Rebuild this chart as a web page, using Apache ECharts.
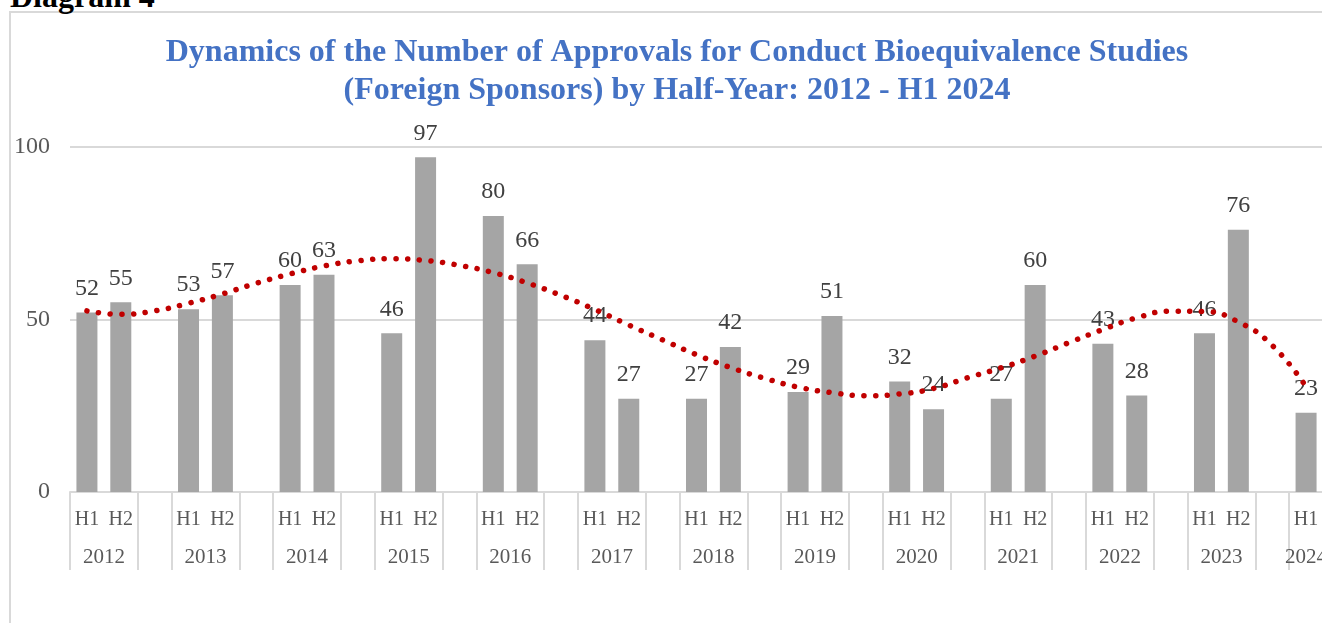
<!DOCTYPE html>
<html>
<head>
<meta charset="utf-8">
<script src="https://cdn.jsdelivr.net/npm/echarts@6/dist/echarts.min.js"></script>
<style>
  html, body { margin: 0; padding: 0; background: #ffffff; overflow: hidden; }
  #wrap { position: relative; width: 1322px; height: 623px; overflow: hidden; }
  #frame { position: absolute; left: 9px; top: 11px; width: 1340px; height: 640px; border: 2px solid #d9d9d9; box-sizing: border-box; }
  #caption { position: absolute; left: 10px; top: -19px; font: bold 32px/30px "Liberation Serif", "Times New Roman", serif; color: #000; white-space: nowrap; }
  #chart { position: absolute; left: 0; top: 0; width: 1322px; height: 623px; }
</style>
</head>
<body>
<div id="wrap">
  <div id="frame"></div>
  <div id="caption">Diagram 4</div>
  <div id="chart"></div>
</div>
<script>
// ---- data ----
const years = ['2012','2013','2014','2015','2016','2017','2018','2019','2020','2021','2022','2023','2024'];
const halves = ['H1','H2'];
const valuesH1 = [52, 53, 60, 46, 80, 44, 27, 29, 32, 27, 43, 46, 23];
const valuesH2 = [55, 57, 63, 97, 66, 27, 42, 51, 24, 60, 28, 76];
// dotted trend line, one value per slot (H1, H2, gap ...)
const trendValues = [52.5, 51.5, 52.5, 54.7, 57.4, 60.5, 63.2, 65.5, 67.0, 67.6, 67.1, 65.7, 63.6,
  60.6, 57.0, 52.9, 48.4, 44.1, 39.8, 36.1, 33.0, 30.4, 28.8, 27.9, 28.4, 30.0, 33.1, 36.0,
  39.4, 43.3, 47.1, 50.5, 52.4, 52.3, 49.3, 42.5, 30.5];
const yTicks = [0, 50, 100];

// ---- build slot categories: H1, H2, (empty gap) per year ----
const halfCats = [], yearCats = [], barData = [];
years.forEach((y, i) => {
  halfCats.push(halves[0]); yearCats.push(y); barData.push(valuesH1[i]);
  if (i < valuesH2.length) {
    halfCats.push(halves[1]); yearCats.push(''); barData.push(valuesH2[i]);
    halfCats.push(''); yearCats.push(''); barData.push('-');
  }
});
const lastIdx = halfCats.length - 1;

const serif = '"Liberation Serif", "Times New Roman", serif';
const chart = echarts.init(document.getElementById('chart'), null, { renderer: 'canvas' });
chart.setOption({
  animation: false,
  title: {
    text: 'Dynamics of the Number of Approvals for Conduct Bioequivalence Studies\n(Foreign Sponsors) by Half-Year: 2012 - H1 2024',
    left: 672, top: 29, textAlign: 'center',
    textStyle: { fontFamily: serif, fontWeight: 'bold', fontSize: 32, lineHeight: 38, color: '#4472c4' }
  },
  grid: { left: 70, top: 147, width: 1253, bottom: 131, containLabel: false, outerBoundsMode: 'none' },
  xAxis: [{
    type: 'category', data: halfCats, position: 'bottom',
    axisLine: { show: true, lineStyle: { color: '#d9d9d9', width: 2 } },
    axisTick: { show: true, length: 78, interval: (i) => (i % 3) !== 1, lineStyle: { color: '#d9d9d9', width: 2 } },
    axisLabel: { interval: 0, margin: 18, fontFamily: serif, fontSize: 20, color: '#595959' },
    splitLine: { show: false }
  }, {
    type: 'category', data: yearCats, position: 'bottom',
    axisLine: { show: false }, axisTick: { show: false },
    axisLabel: {
      interval: 0, margin: 55, fontFamily: serif, fontSize: 21, color: '#595959',
      formatter: (v, i) => v ? (i === lastIdx ? v : '{s|' + v + '}') : '',
      rich: { s: { padding: [0, 0, 0, 34], fontFamily: serif, fontSize: 21, color: '#595959' } }
    }
  }],
  yAxis: {
    type: 'value', min: yTicks[0], max: yTicks[yTicks.length - 1], interval: yTicks[1] - yTicks[0],
    axisLine: { show: false }, axisTick: { show: false },
    axisLabel: { margin: 20, fontFamily: serif, fontSize: 24, color: '#595959' },
    splitLine: { show: true, lineStyle: { color: '#d9d9d9', width: 2 } }
  },
  series: [{
    type: 'bar', data: barData, barWidth: 21, xAxisIndex: 0,
    itemStyle: { color: '#a5a5a5' },
    label: { show: true, position: 'top', distance: 12, fontFamily: serif, fontSize: 24, color: '#404040' },
    z: 2
  }, {
    type: 'line', data: trendValues, xAxisIndex: 0, smooth: true, symbol: 'none',
    lineStyle: { color: '#c00000', width: 5.5, type: [0.1, 11.6], cap: 'round' },
    z: 3, silent: true
  }]
});
</script>
</body>
</html>
